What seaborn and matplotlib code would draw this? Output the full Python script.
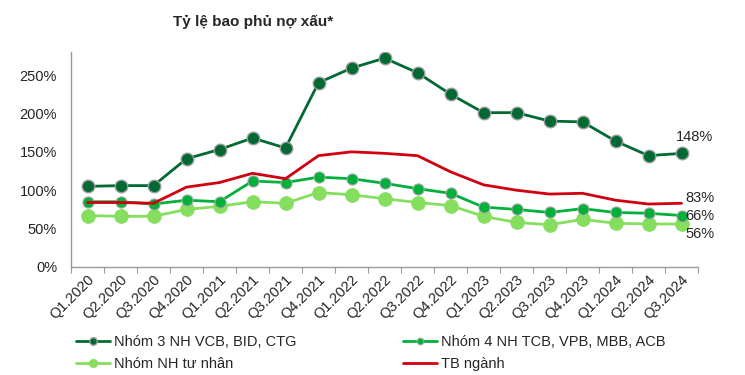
import matplotlib.pyplot as plt
import pandas as pd
import seaborn as sns
from matplotlib.ticker import FuncFormatter

quarters = ["Q1.2020", "Q2.2020", "Q3.2020", "Q4.2020", "Q1.2021", "Q2.2021",
            "Q3.2021", "Q4.2021", "Q1.2022", "Q2.2022", "Q3.2022", "Q4.2022",
            "Q1.2023", "Q2.2023", "Q3.2023", "Q4.2023", "Q1.2024", "Q2.2024",
            "Q3.2024"]

nhom3 = [105, 106, 106, 141, 153, 168, 155, 240, 259, 272, 253, 225,
         201, 201, 190, 189, 164, 145, 148]
nhom4 = [85, 85, 82, 87, 85, 112, 110, 117, 115, 109, 102, 96,
         78, 75, 71, 76, 71, 70, 67]
tu_nhan = [67, 66, 66, 75, 79, 85, 83, 97, 94, 89, 84, 80,
           66, 58, 55, 62, 57, 56, 56]
tb_nganh = [84, 84, 83, 104, 110, 122, 115, 145, 150, 148, 145, 124,
            107, 100, 95, 96, 87, 82, 83]

names = ["Nhóm 3 NH VCB, BID, CTG", "Nhóm 4 NH TCB, VPB, MBB, ACB",
         "Nhóm NH tư nhân", "TB ngành"]

df = pd.DataFrame({"pos": range(len(quarters))})
df[names[0]] = nhom3
df[names[1]] = nhom4
df[names[2]] = tu_nhan
df[names[3]] = tb_nganh

sns.set_style("white")
plt.rcParams["font.family"] = ["Liberation Sans", "DejaVu Sans"]

fig = plt.figure(figsize=(7.45, 3.75), dpi=100)
ax = fig.add_axes([71 / 745, 1 - 267 / 375, 627 / 745, 215 / 375])

styles = [
    dict(color="#006A32", marker="o", markersize=9, markeredgecolor="#9a9a9a", markeredgewidth=1),
    dict(color="#00B03A", marker="o", markersize=8, markeredgecolor="#a8a8a8", markeredgewidth=0.8),
    dict(color="#86DE5E", marker="o", markersize=10, markeredgecolor="#86DE5E", markeredgewidth=0.5),
    dict(color="#D00010", marker=None),
]
order = [2, 1, 3, 0]
for i in order:
    sns.lineplot(data=df, x="pos", y=names[i], ax=ax, linewidth=2,
                 label=names[i], legend=False, **styles[i])

ax.annotate("148%", (18, 148), xytext=(-4, 9), textcoords="offset points",
            fontsize=10.5, annotation_clip=False)
ax.annotate("83%", (18, 83), xytext=(3, 1), textcoords="offset points",
            fontsize=10.5, annotation_clip=False)
ax.annotate("66%", (18, 67), xytext=(3, -3), textcoords="offset points",
            fontsize=10.5, annotation_clip=False)
ax.annotate("56%", (18, 56), xytext=(3, -10), textcoords="offset points",
            fontsize=10.5, annotation_clip=False)

ax.set_xlim(-0.5, len(quarters) - 0.5)
ax.set_ylim(0, 280)
ax.set_yticks([0, 50, 100, 150, 200, 250])
ax.yaxis.set_major_formatter(FuncFormatter(lambda v, p: f"{v:.0f}%"))
ax.set_xticks([p - 0.5 for p in range(len(quarters) + 1)], minor=False)
ax.set_xticklabels([""] * (len(quarters) + 1))
ax.set_xticks(range(len(quarters)), minor=True)
ax.set_xticklabels(quarters, minor=True, rotation=45, ha="right",
                   rotation_mode="anchor", fontsize=10.5)
ax.tick_params(axis="x", which="major", length=4, color="#999999", direction="out", bottom=True)
ax.tick_params(axis="x", which="minor", length=0, pad=4)
ax.tick_params(axis="y", labelsize=10.5, length=0, pad=10)
ax.set_xlabel("")
ax.set_ylabel("")

for s in ["top", "right"]:
    ax.spines[s].set_visible(False)
for s in ["left", "bottom"]:
    ax.spines[s].set_color("#999999")
    ax.spines[s].set_linewidth(1)

fig.suptitle("Tỷ lệ bao phủ nợ xấu*", x=0.34, y=0.96, fontsize=11,
             fontweight="bold", family=["Liberation Sans", "DejaVu Sans"])

handles, labels = ax.get_legend_handles_labels()
lookup = dict(zip(labels, handles))
leg_order = [names[0], names[2], names[1], names[3]]
fig.legend([lookup[n] for n in leg_order], leg_order, ncol=2, loc="lower left",
           bbox_to_anchor=(0.085, -0.024), frameon=False, fontsize=10.5,
           handlelength=2.3, handletextpad=0.3, columnspacing=7.3,
           labelspacing=0.55, markerscale=0.6)

fig.savefig("out.png", dpi=100)
